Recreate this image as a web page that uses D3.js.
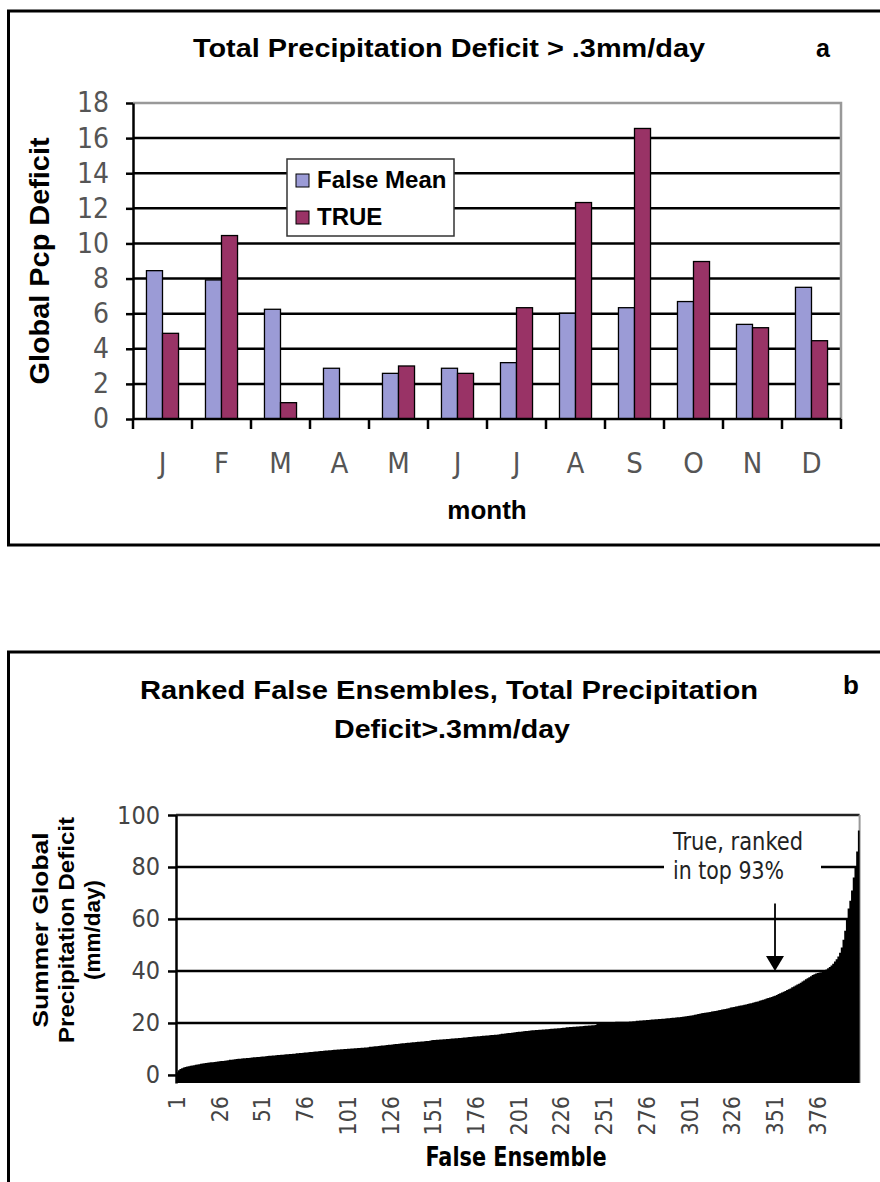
<!DOCTYPE html>
<html>
<head>
<meta charset="utf-8">
<script src="https://cdn.jsdelivr.net/npm/d3@7"></script>
<style>
  body { margin: 0; background: #fff; }
  svg { display: block; }
</style>
</head>
<body>
<div id="chart"></div>
<script>
// ---- data: panel a ----
const months = ["Jan", "Feb", "Mar", "Apr", "May", "Jun", "Jul", "Aug", "Sep", "Oct", "Nov", "Dec"];
const monthLabels = ["J", "F", "M", "A", "M", "J", "J", "A", "S", "O", "N", "D"];
const seriesNames = ["False Mean", "TRUE"];
const falseMean = [8.45, 7.92, 6.25, 2.89, 2.6, 2.89, 3.21, 6.02, 6.34, 6.69, 5.39, 7.5];
const trueVals = [4.88, 10.45, 0.93, 0, 3.02, 2.6, 6.34, 12.33, 16.55, 8.97, 5.2, 4.46];
const yTicksA = [0, 2, 4, 6, 8, 10, 12, 14, 16, 18];

// ---- data: panel b (ranked false ensembles) ----
const ensembleRanked = [
  1.0, 1.8, 2.3, 2.6, 2.9, 3.1, 3.2, 3.3, 3.5, 3.6, 3.7, 3.9, 4.0, 4.1, 4.3, 4.4, 4.5, 4.6, 4.7, 4.8,
  4.9, 4.9, 5.0, 5.1, 5.2, 5.3, 5.4, 5.4, 5.5, 5.6, 5.7, 5.8, 5.8, 5.9, 6.0, 6.1, 6.2, 6.2, 6.3, 6.4,
  6.4, 6.5, 6.5, 6.6, 6.7, 6.8, 6.8, 6.9, 6.9, 7.0, 7.1, 7.1, 7.2, 7.3, 7.4, 7.4, 7.5, 7.5, 7.6, 7.7,
  7.7, 7.8, 7.8, 7.9, 8.0, 8.0, 8.1, 8.1, 8.2, 8.2, 8.3, 8.3, 8.4, 8.4, 8.5, 8.6, 8.6, 8.7, 8.8, 8.8,
  8.9, 9.0, 9.0, 9.1, 9.2, 9.2, 9.3, 9.4, 9.4, 9.5, 9.5, 9.6, 9.7, 9.7, 9.8, 9.8, 9.9, 9.9, 10.0, 10.0,
  10.1, 10.1, 10.2, 10.2, 10.3, 10.3, 10.4, 10.4, 10.5, 10.5, 10.6, 10.6, 10.7, 10.8, 10.8, 10.9, 11.0, 11.0, 11.1, 11.2,
  11.3, 11.3, 11.4, 11.5, 11.6, 11.6, 11.7, 11.8, 11.9, 11.9, 12.0, 12.1, 12.2, 12.2, 12.3, 12.4, 12.4, 12.5, 12.6, 12.6,
  12.7, 12.8, 12.8, 12.9, 12.9, 13.0, 13.1, 13.1, 13.2, 13.3, 13.4, 13.4, 13.5, 13.5, 13.6, 13.6, 13.7, 13.7, 13.8, 13.8,
  13.9, 14.0, 14.0, 14.1, 14.1, 14.2, 14.2, 14.3, 14.4, 14.4, 14.5, 14.6, 14.6, 14.7, 14.8, 14.8, 14.9, 14.9, 15.0, 15.1,
  15.1, 15.2, 15.2, 15.3, 15.4, 15.4, 15.5, 15.5, 15.6, 15.7, 15.8, 15.8, 15.9, 16.0, 16.1, 16.1, 16.2, 16.3, 16.4, 16.5,
  16.6, 16.6, 16.7, 16.8, 16.9, 16.9, 17.0, 17.1, 17.2, 17.2, 17.3, 17.3, 17.4, 17.4, 17.5, 17.5, 17.6, 17.6, 17.7, 17.8,
  17.8, 17.9, 17.9, 18.0, 18.0, 18.1, 18.2, 18.2, 18.3, 18.3, 18.4, 18.4, 18.5, 18.5, 18.6, 18.6, 18.7, 18.7, 18.8, 18.9,
  18.9, 19.0, 19.0, 19.1, 19.1, 19.2, 20.3, 20.3, 20.3, 20.3, 20.4, 20.4, 20.4, 20.4, 20.4, 20.4, 20.4, 20.5, 20.5, 20.5,
  20.5, 20.5, 20.5, 20.5, 20.5, 20.6, 20.6, 20.7, 20.7, 20.8, 20.8, 20.9, 20.9, 21.0, 21.0, 21.1, 21.1, 21.2, 21.3, 21.3,
  21.4, 21.4, 21.5, 21.5, 21.6, 21.6, 21.7, 21.8, 21.8, 21.9, 22.0, 22.0, 22.1, 22.2, 22.2, 22.3, 22.4, 22.5, 22.6, 22.7,
  22.8, 22.9, 23.0, 23.2, 23.3, 23.4, 23.5, 23.7, 23.8, 23.9, 24.0, 24.1, 24.2, 24.4, 24.5, 24.6, 24.7, 24.9, 25.0, 25.2,
  25.3, 25.4, 25.6, 25.7, 25.9, 26.0, 26.1, 26.3, 26.4, 26.6, 26.7, 26.8, 27.0, 27.1, 27.3, 27.5, 27.6, 27.8, 28.0, 28.2,
  28.3, 28.5, 28.7, 28.9, 29.1, 29.4, 29.6, 29.8, 30.0, 30.3, 30.5, 30.8, 31.1, 31.4, 31.7, 32.0, 32.3, 32.7, 33.0, 33.3,
  33.7, 34.0, 34.4, 34.8, 35.1, 35.5, 35.9, 36.3, 36.8, 37.2, 37.6, 38.0, 38.4, 38.7, 39.0, 39.2, 39.4, 39.5, 39.8, 40.2,
  40.6, 41.0, 41.5, 42.1, 42.8, 43.6, 44.5, 45.6, 47.0, 49.0, 52.0, 55.5, 60.0, 64.0, 67.0, 71.0, 76.0, 80.0, 86.0, 94.0
];
const ensembleTickLabels = [1, 26, 51, 76, 101, 126, 151, 176, 201, 226, 251, 276, 301, 326, 351, 376];
const yTicksB = [0, 20, 40, 60, 80, 100];
const trueRank = 351;      // where the arrow points
const trueLevel = 40;

const narrow = '"Liberation Sans Narrow", "Arial Narrow", "DejaVu Sans Condensed", sans-serif';
const sans = '"Liberation Sans", Arial, sans-serif';

const color = d3.scaleOrdinal().domain(seriesNames).range(["#9b9bd6", "#993366"]);

const svg = d3.select("#chart")
  .append("svg")
  .attr("width", 880)
  .attr("height", 1182);

svg.append("rect").attr("width", 880).attr("height", 1182).attr("fill", "#fff");

// =================== Panel a ===================
svg.append("rect")
  .attr("x", 8.5).attr("y", 11)
  .attr("width", 880).attr("height", 534)
  .attr("fill", "none").attr("stroke", "#000").attr("stroke-width", 3);

const a = {left: 133, right: 841, top: 103, bottom: 419};

const x = d3.scaleBand().domain(months).range([a.left, a.right]).padding(0);
const x1 = d3.scaleBand().domain(seriesNames).range([0, x.bandwidth()])
  .paddingInner(0).paddingOuter(0.84);
const y = d3.scaleLinear().domain([0, 18]).range([a.bottom, a.top]);

// gridlines
svg.append("g")
  .selectAll("line")
  .data(yTicksA.filter(v => v > 0 && v < 18))
  .enter()
  .append("line")
  .attr("x1", a.left).attr("x2", a.right)
  .attr("y1", d => y(d)).attr("y2", d => y(d))
  .attr("stroke", "#000").attr("stroke-width", 2.5);

// plot area border (top / right, grey)
svg.append("path")
  .attr("d", `M${a.left},${y(18)}H${a.right}V${y(0)}`)
  .attr("fill", "none").attr("stroke", "#999").attr("stroke-width", 2.5);

// bars
const rows = months.map((m, i) => ({m, vals: [
  {name: seriesNames[0], v: falseMean[i]},
  {name: seriesNames[1], v: trueVals[i]}
]}));

svg.append("g")
  .selectAll("g")
  .data(rows)
  .enter()
  .append("g")
  .attr("transform", d => `translate(${x(d.m)},0)`)
  .selectAll("rect")
  .data(d => d.vals.filter(e => e.v > 0))
  .enter()
  .append("rect")
  .attr("x", d => x1(d.name))
  .attr("y", d => y(d.v))
  .attr("width", x1.bandwidth())
  .attr("height", d => y(0) - y(d.v))
  .attr("fill", d => color(d.name))
  .attr("stroke", "#000")
  .attr("stroke-width", 1.3);

// y axis
const yAxisA = svg.append("g")
  .attr("transform", `translate(${a.left},0)`)
  .call(d3.axisLeft(y).tickValues(yTicksA).tickSize(7).tickSizeOuter(0).tickPadding(17));
yAxisA.select(".domain").attr("stroke", "#000").attr("stroke-width", 2.5);
yAxisA.selectAll(".tick line").attr("stroke", "#000").attr("stroke-width", 2.5);
yAxisA.selectAll("text")
  .style("font-family", narrow).style("font-size", "28px").attr("fill", "#555");

// x axis (ticks between categories)
svg.append("line")
  .attr("x1", a.left).attr("x2", a.right)
  .attr("y1", y(0)).attr("y2", y(0))
  .attr("stroke", "#000").attr("stroke-width", 2.5);

svg.append("g")
  .selectAll("line")
  .data(months.map(m => x(m)).concat([a.right]))
  .enter()
  .append("line")
  .attr("x1", d => d).attr("x2", d => d)
  .attr("y1", y(0)).attr("y2", y(0) + 10)
  .attr("stroke", "#000").attr("stroke-width", 2.5);

const xAxisA = svg.append("g")
  .attr("transform", `translate(0,${a.bottom})`)
  .call(d3.axisBottom(x).tickSize(0).tickPadding(33).tickFormat((d, i) => monthLabels[i]));
xAxisA.select(".domain").remove();
xAxisA.selectAll("text")
  .style("font-family", narrow).style("font-size", "29px").attr("fill", "#555");

// titles / labels
svg.append("text")
  .attr("x", 449).attr("y", 57)
  .attr("text-anchor", "middle")
  .attr("textLength", 512).attr("lengthAdjust", "spacingAndGlyphs")
  .style("font-family", sans).style("font-weight", "bold").style("font-size", "25px")
  .text("Total Precipitation Deficit > .3mm/day");

svg.append("text")
  .attr("x", 823).attr("y", 57)
  .attr("text-anchor", "middle")
  .style("font-family", sans).style("font-weight", "bold").style("font-size", "25px")
  .text("a");

svg.append("text")
  .attr("transform", "translate(49,261) rotate(-90)")
  .attr("text-anchor", "middle")
  .attr("textLength", 247).attr("lengthAdjust", "spacingAndGlyphs")
  .style("font-family", sans).style("font-weight", "bold").style("font-size", "27px")
  .text("Global Pcp Deficit");

svg.append("text")
  .attr("x", 487).attr("y", 519)
  .attr("text-anchor", "middle")
  .style("font-family", sans).style("font-weight", "bold").style("font-size", "26px")
  .text("month");

// legend
const legend = svg.append("g").attr("transform", "translate(287,159)");
legend.append("rect")
  .attr("width", 167).attr("height", 77)
  .attr("fill", "#fff").attr("stroke", "#333").attr("stroke-width", 1.5);

const legendItems = legend.selectAll(".legend-item")
  .data(seriesNames)
  .enter()
  .append("g")
  .attr("class", "legend-item")
  .attr("transform", (d, i) => `translate(9,${15 + i * 37})`);

legendItems.append("rect")
  .attr("width", 13).attr("height", 13)
  .attr("fill", d => color(d))
  .attr("stroke", "#000").attr("stroke-width", 1);

legendItems.append("text")
  .attr("x", 21).attr("y", 14)
  .style("font-family", sans).style("font-weight", "bold").style("font-size", "24px")
  .text(d => d);

// =================== Panel b ===================
svg.append("rect")
  .attr("x", 8.5).attr("y", 652)
  .attr("width", 880).attr("height", 560)
  .attr("fill", "none").attr("stroke", "#000").attr("stroke-width", 3);

const b = {left: 176, right: 859.6, top: 815, bottom: 1083};

const xE = d3.scaleBand()
  .domain(d3.range(1, ensembleRanked.length + 1))
  .range([b.left, b.right])
  .padding(0);
const yE = d3.scaleLinear().domain([-3.1, 100]).range([b.bottom, b.top]);

// gridlines
svg.append("g")
  .selectAll("line")
  .data(yTicksB.filter(v => v > 0))
  .enter()
  .append("line")
  .attr("x1", b.left).attr("x2", b.right)
  .attr("y1", d => yE(d)).attr("y2", d => yE(d))
  .attr("stroke", d => d === 100 ? "#222" : "#000")
  .attr("stroke-width", 2.5);

svg.append("line")
  .attr("x1", b.right).attr("x2", b.right)
  .attr("y1", yE(100)).attr("y2", b.bottom)
  .attr("stroke", "#999").attr("stroke-width", 2);

// ranked ensemble fill
const pts = ensembleRanked.map((v, i) => ({px: xE(i + 1), v}));
pts.push({px: xE(ensembleRanked.length) + xE.bandwidth(), v: ensembleRanked[ensembleRanked.length - 1]});

const area = d3.area()
  .x(d => d.px)
  .y0(b.bottom)
  .y1(d => yE(d.v))
  .curve(d3.curveStepAfter);

svg.append("path")
  .datum(pts)
  .attr("d", area)
  .attr("fill", "#000");

// y axis
const yAxisB = svg.append("g")
  .attr("transform", `translate(${b.left},0)`)
  .call(d3.axisLeft(yE).tickValues(yTicksB).tickSize(8).tickSizeOuter(0).tickPadding(8));
yAxisB.select(".domain").attr("stroke", "#000").attr("stroke-width", 2.5);
yAxisB.selectAll(".tick line").attr("stroke", "#000").attr("stroke-width", 2.5);
yAxisB.selectAll("text")
  .style("font-family", narrow).style("font-size", "25px").attr("fill", "#444");

// x axis labels (rotated)
const xAxisB = svg.append("g")
  .attr("transform", `translate(0,${b.bottom})`)
  .call(d3.axisBottom(xE).tickValues(ensembleTickLabels).tickSize(0));
xAxisB.select(".domain").remove();
xAxisB.selectAll("text")
  .attr("transform", "rotate(-90)")
  .attr("text-anchor", "end")
  .attr("x", -13).attr("y", 0).attr("dy", "0.35em")
  .style("font-family", narrow).style("font-size", "23px").attr("fill", "#444");

// annotation
const arrowX = xE(trueRank) + xE.bandwidth() / 2;
svg.append("rect")
  .attr("x", arrowX - 111).attr("y", yE(89))
  .attr("width", 157).attr("height", 54)
  .attr("fill", "#fff");

const note = svg.append("text")
  .style("font-family", narrow).style("font-size", "24px").attr("fill", "#222");
note.append("tspan")
  .attr("x", arrowX - 102).attr("y", 850)
  .attr("textLength", 130).attr("lengthAdjust", "spacingAndGlyphs")
  .text("True, ranked");
note.append("tspan")
  .attr("x", arrowX - 102).attr("y", 879)
  .attr("textLength", 111).attr("lengthAdjust", "spacingAndGlyphs")
  .text("in top 93%");

svg.append("line")
  .attr("x1", arrowX).attr("x2", arrowX)
  .attr("y1", yE(66)).attr("y2", yE(trueLevel) - 12)
  .attr("stroke", "#000").attr("stroke-width", 1.8);
svg.append("path")
  .attr("d", `M${arrowX - 9},${yE(trueLevel) - 15}L${arrowX + 9},${yE(trueLevel) - 15}L${arrowX},${yE(trueLevel)}Z`)
  .attr("fill", "#000");

// titles / labels
svg.append("text")
  .attr("x", 449).attr("y", 699)
  .attr("text-anchor", "middle")
  .attr("textLength", 618).attr("lengthAdjust", "spacingAndGlyphs")
  .style("font-family", sans).style("font-weight", "bold").style("font-size", "26px")
  .text("Ranked False Ensembles, Total Precipitation");
svg.append("text")
  .attr("x", 452).attr("y", 738)
  .attr("text-anchor", "middle")
  .attr("textLength", 236).attr("lengthAdjust", "spacingAndGlyphs")
  .style("font-family", sans).style("font-weight", "bold").style("font-size", "26px")
  .text("Deficit>.3mm/day");
svg.append("text")
  .attr("x", 851).attr("y", 694)
  .attr("text-anchor", "middle")
  .style("font-family", sans).style("font-weight", "bold").style("font-size", "26px")
  .text("b");

const yLabB = [
  {t: "Summer Global", cx: 40, len: 195},
  {t: "Precipitation Deficit", cx: 66, len: 226},
  {t: "(mm/day)", cx: 92, len: 100}
];
svg.append("g")
  .selectAll("text")
  .data(yLabB)
  .enter()
  .append("text")
  .attr("transform", d => `translate(${d.cx + 8},930) rotate(-90)`)
  .attr("text-anchor", "middle")
  .attr("textLength", d => d.len).attr("lengthAdjust", "spacingAndGlyphs")
  .style("font-family", sans).style("font-weight", "bold").style("font-size", "22px")
  .text(d => d.t);

svg.append("text")
  .attr("x", 516).attr("y", 1166)
  .attr("text-anchor", "middle")
  .attr("textLength", 181).attr("lengthAdjust", "spacingAndGlyphs")
  .style("font-family", narrow).style("font-weight", "bold").style("font-size", "27px")
  .text("False Ensemble");
</script>
</body>
</html>
